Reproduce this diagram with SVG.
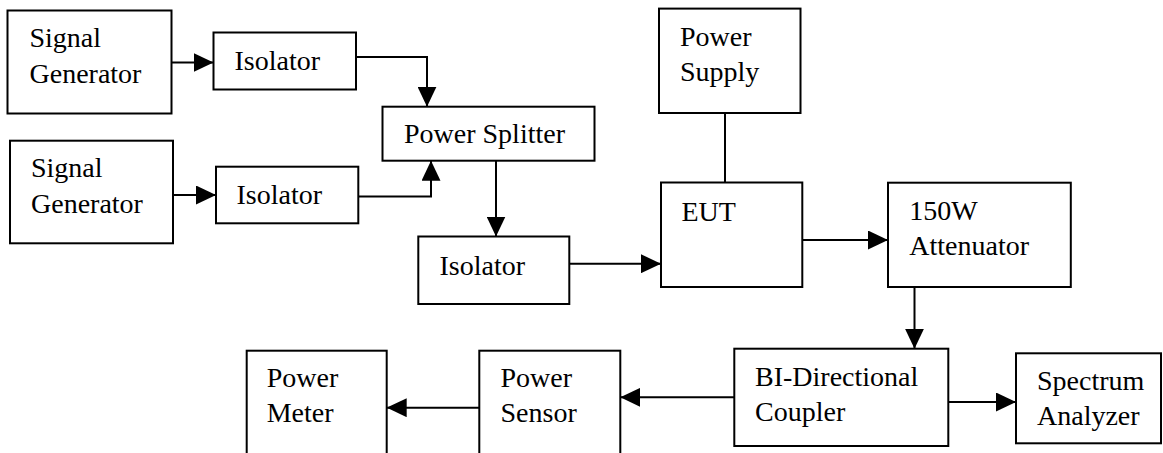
<svg xmlns="http://www.w3.org/2000/svg" width="1163" height="453" viewBox="0 0 1163 453">
<style>
.box{fill:#fff;stroke:#000;stroke-width:2}
.lbl{font-family:"Liberation Serif","Times New Roman",serif;font-size:28px;fill:#000}
.con{fill:none;stroke:#000;stroke-width:2}
</style>
<defs>
<marker id="ah" markerUnits="userSpaceOnUse" markerWidth="20" markerHeight="19" refX="20" refY="9.5" orient="auto">
<path d="M0,0 L20,9.5 L0,19 z" fill="#000"/>
</marker>
</defs>
<rect width="1163" height="453" fill="#fff"/>
<g id="sg1"><rect class="box" x="7.5" y="10.5" width="164" height="103"/><text class="lbl" x="29.5" y="47">Signal</text><text class="lbl" x="29.5" y="83">Generator</text></g>
<g id="iso1"><rect class="box" x="213.5" y="32.5" width="142.5" height="57"/><text class="lbl" x="234.5" y="70">Isolator</text></g>
<g id="sg2"><rect class="box" x="10" y="140.7" width="163" height="102.6"/><text class="lbl" x="31" y="176.7">Signal</text><text class="lbl" x="31" y="212.5">Generator</text></g>
<g id="iso2"><rect class="box" x="216" y="166.7" width="142.3" height="56.6"/><text class="lbl" x="236.5" y="204">Isolator</text></g>
<g id="splitter"><rect class="box" x="382.5" y="106.7" width="212" height="54"/><text class="lbl" x="404" y="143">Power Splitter</text></g>
<g id="iso3"><rect class="box" x="418.3" y="236.5" width="151" height="67.5"/><text class="lbl" x="439.5" y="275">Isolator</text></g>
<g id="psu"><rect class="box" x="659" y="8.6" width="141.5" height="104.4"/><text class="lbl" x="680" y="46">Power</text><text class="lbl" x="680" y="81">Supply</text></g>
<g id="eut"><rect class="box" x="661" y="182.5" width="141.3" height="104.5"/><text class="lbl" x="681.5" y="221">EUT</text></g>
<g id="att"><rect class="box" x="888" y="182.7" width="182.8" height="104.3"/><text class="lbl" x="909.3" y="220">150W</text><text class="lbl" x="909.3" y="254.5">Attenuator</text></g>
<g id="coupler"><rect class="box" x="734.3" y="348.7" width="214" height="97.3"/><text class="lbl" x="755" y="386">BI-Directional</text><text class="lbl" x="755" y="421">Coupler</text></g>
<g id="spectrum"><rect class="box" x="1016" y="353.3" width="145" height="90"/><text class="lbl" x="1037" y="390">Spectrum</text><text class="lbl" x="1037" y="425">Analyzer</text></g>
<g id="sensor"><rect class="box" x="479.3" y="350.7" width="141" height="120"/><text class="lbl" x="500.5" y="386.7">Power</text><text class="lbl" x="500.5" y="421.7">Sensor</text></g>
<g id="meter"><rect class="box" x="246.7" y="350.7" width="140" height="120"/><text class="lbl" x="266.7" y="387">Power</text><text class="lbl" x="266.7" y="422">Meter</text></g>
<g id="connectors">
<path class="con" d="M171.5,62.5 H213.5" marker-end="url(#ah)"/>
<path class="con" d="M356,57 H427 V106.7" marker-end="url(#ah)"/>
<path class="con" d="M173,195 H216" marker-end="url(#ah)"/>
<path class="con" d="M358.3,196.5 H431 V160.7" marker-end="url(#ah)"/>
<path class="con" d="M496,160.7 V236.5" marker-end="url(#ah)"/>
<path class="con" d="M569.3,263.7 H661" marker-end="url(#ah)"/>
<path class="con" d="M725,113 V182.5"/>
<path class="con" d="M802.3,240 H888" marker-end="url(#ah)"/>
<path class="con" d="M914.5,287 V348.7" marker-end="url(#ah)"/>
<path class="con" d="M734.3,397.3 H620.3" marker-end="url(#ah)"/>
<path class="con" d="M948.3,402 H1016" marker-end="url(#ah)"/>
<path class="con" d="M479.3,407.7 H386.7" marker-end="url(#ah)"/>
</g>
</svg>
